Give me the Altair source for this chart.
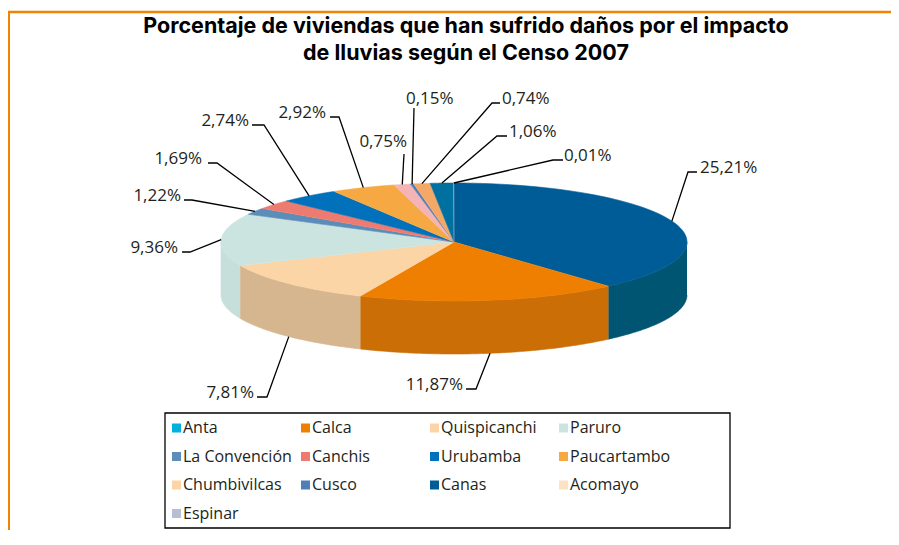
import altair as alt
import pandas as pd

# ---------------- data ----------------
NAMES = ["Anta", "Calca", "Quispicanchi", "Paruro", "La Convención", "Canchis",
         "Urubamba", "Paucartambo", "Chumbivilcas", "Cusco", "Canas", "Acomayo", "Espinar"]
VALUES = [25.21, 11.87, 7.81, 9.36, 1.22, 1.69, 2.74, 2.92, 0.75, 0.15, 0.74, 1.06, 0.01]

TOP_COLORS = ["#005C97", "#EF7F00", "#FBD5A5", "#CBE4E0", "#5B8DB8", "#EE7B70", "#0071BA",
              "#F6A843", "#F4B3B5", "#4F7EB9", "#F4A867", "#0070A0", "#B8BED4"]
SIDE_COLORS = ["#005573", "#CB6E06", "#D6B68F", "#C6DFDB", "#4E7AA0", "#CF6A60", "#00619F",
               "#D69237", "#D49B9D", "#446DA0", "#D49259", "#006089", "#9FA5B8"]
LEGEND_COLORS = ["#00B0DF", "#EF7F00", "#FBD5A5", "#CBE4E0", "#5B8DB8", "#EE7B70", "#0071BA",
                 "#F6A843", "#FBD5A5", "#4F7EB9", "#005C97", "#FDE2C6", "#B8BED4"]

TITLE_LINES = ["Porcentaje de viviendas que han sufrido daños por el impacto",
               "de lluvias según el Censo 2007"]

# ---------------- layout (annotation placement, px relative to pie centre) ----------------
ELBOW_DX = [234, 22, -187, -264, -262, -237, -190, -115, -50, -40, 38, 43, 99]
ELBOW_DY = [-70, 147, 155, 10, -42, -79, -117, -125, -88, -134, -139, -106, -82]
HLEN = [9, -10, -10, -8, -8, -9, -12, -9, 0, 0, 8, 10, 10]
TEXT_DX = [246, 9, -200, -276, -273, -252, -205, -128, -47, -48, 48, 55, 110]
TEXT_DY = [-69, 148, 156, 11, -41, -78, -116, -124, -95, -138, -138, -105, -81]
TEXT_ALIGN = ["left", "right", "right", "right", "right", "right", "right", "right",
              "right", "left", "left", "left", "left"]

W, H = 883, 522
CX, CY, A, B, D = 446, 234, 233, 59, 53
SEG = 60
FONT = "Open Sans"
INK = "#231F20"

df = pd.DataFrame({
    "name": NAMES, "value": VALUES, "idx": list(range(len(NAMES))),
    "top_color": TOP_COLORS, "side_color": SIDE_COLORS,
    "ex": ELBOW_DX, "ey": ELBOW_DY, "hl": HLEN,
    "tdx": TEXT_DX, "tdy": TEXT_DY, "talign": TEXT_ALIGN,
})

xs = alt.Scale(domain=[0, W], range=[0, W], nice=False, zero=False)
ys = alt.Scale(domain=[0, H], range=[0, H], nice=False, zero=False)


def X(f):
    return alt.X(f, type="quantitative", scale=xs, axis=None)


def Y(f):
    return alt.Y(f, type="quantitative", scale=ys, axis=None)


pie_base = (
    alt.Chart(df)
    .transform_window(cum="sum(value)", sort=[alt.SortField("idx", order="ascending")],
                      frame=[None, 0])
    .transform_joinaggregate(total="sum(value)")
    .transform_calculate(
        a0="2*PI*(datum.cum - datum.value)/datum.total",
        a1="2*PI*datum.cum/datum.total",
    )
)

# side walls (front half only)
sides = (
    pie_base
    .transform_calculate(s0="max(datum.a0, PI/2)", s1="min(datum.a1, 3*PI/2)")
    .transform_filter("datum.s1 > datum.s0")
    .transform_calculate(k=f"sequence(0, {2 * SEG + 2})")
    .transform_flatten(["k"])
    .transform_calculate(
        t=f"datum.k <= {SEG} ? datum.s0 + (datum.s1 - datum.s0)*datum.k/{SEG}"
          f" : datum.s1 - (datum.s1 - datum.s0)*(datum.k - {SEG + 1})/{SEG}",
        px=f"{CX} + {A}*sin(datum.t)",
        py=f"{CY} - {B}*cos(datum.t) + (datum.k > {SEG} ? {D} : 0)",
    )
    .mark_line(strokeWidth=0.6, strokeJoin="round")
    .encode(
        x=X("px"), y=Y("py"),
        fill=alt.Fill("side_color:N", scale=None),
        stroke=alt.Stroke("side_color:N", scale=None),
        detail="name:N", order="k:Q",
    )
)

# top surface wedges
tops = (
    pie_base
    .transform_calculate(k=f"sequence(-1, {SEG + 1})")
    .transform_flatten(["k"])
    .transform_calculate(
        t=f"datum.a0 + (datum.a1 - datum.a0)*max(datum.k, 0)/{SEG}",
        px=f"datum.k < 0 ? {CX} : {CX} + {A}*sin(datum.t)",
        py=f"datum.k < 0 ? {CY} : {CY} - {B}*cos(datum.t)",
    )
    .mark_line(strokeWidth=0.6, strokeJoin="round")
    .encode(
        x=X("px"), y=Y("py"),
        fill=alt.Fill("top_color:N", scale=None),
        stroke=alt.Stroke("top_color:N", scale=None),
        detail="name:N", order="k:Q",
    )
)

# leader lines
leaders = (
    pie_base
    .transform_calculate(m="(datum.a0 + datum.a1)/2")
    .transform_calculate(k="sequence(0, 3)")
    .transform_flatten(["k"])
    .transform_calculate(
        px=f"datum.k == 0 ? {CX} + {A}*sin(datum.m) : {CX} + datum.ex + (datum.k == 2 ? datum.hl : 0)",
        py=f"datum.k == 0 ? {CY} - {B}*cos(datum.m) + (cos(datum.m) < -0.3 ? {D} : 0) : {CY} + datum.ey",
    )
    .mark_line(color="#000000", strokeWidth=1.3)
    .encode(x=X("px"), y=Y("py"), detail="name:N", order="k:Q")
)

label_base = (
    alt.Chart(df)
    .transform_calculate(
        lbl="replace(format(datum.value, '.2f'), '.', ',') + '%'",
        px=f"{CX} + datum.tdx",
        py=f"{CY} + datum.tdy",
    )
)
labels_left = label_base.transform_filter("datum.talign == 'left'").mark_text(
    align="left", baseline="alphabetic", font=FONT, fontSize=17, color=INK
).encode(x=X("px"), y=Y("py"), text="lbl:N")
labels_right = label_base.transform_filter("datum.talign == 'right'").mark_text(
    align="right", baseline="alphabetic", font=FONT, fontSize=17, color=INK
).encode(x=X("px"), y=Y("py"), text="lbl:N")

# title
title_df = pd.DataFrame({"line": TITLE_LINES, "i": list(range(len(TITLE_LINES)))})
title = (
    alt.Chart(title_df)
    .transform_calculate(py="25 + 26.5*datum.i")
    .mark_text(align="center", baseline="alphabetic", font="Inter", fontSize=21.5,
               fontWeight="bold", color="#000000")
    .encode(x=alt.value(458), y=Y("py"), text="line:N")
)

# legend
leg_df = pd.DataFrame({"name": NAMES, "idx": list(range(len(NAMES))), "lcolor": LEGEND_COLORS})
leg_base = alt.Chart(leg_df).transform_calculate(
    col="datum.idx % 4", row="floor(datum.idx / 4)"
).transform_calculate(
    sx="168.5 + 129*datum.col", ty="420 + 28.5*datum.row", tx="175 + 129*datum.col"
)
leg_sw = leg_base.mark_square(size=81, opacity=1).encode(
    x=X("sx"), y=Y("ty"), color=alt.Color("lcolor:N", scale=None)
)
leg_tx = leg_base.mark_text(align="left", baseline="middle", font=FONT, fontSize=16,
                            color=INK).encode(x=X("tx"), y=Y("ty"), text="name:N")

dummy = pd.DataFrame({"a": [0]})
leg_box = alt.Chart(dummy).mark_rect(fill="white", stroke="#000000", strokeWidth=1.3).encode(
    x=alt.value(157), x2=alt.value(722), y=alt.value(405), y2=alt.value(520)
)
frame_top = alt.Chart(dummy).mark_rule(color="#F08300", strokeWidth=2.5).encode(
    x=alt.value(0), x2=alt.value(W), y=alt.value(4)
)
frame_left = alt.Chart(dummy).mark_rule(color="#F08300", strokeWidth=2.5).encode(
    x=alt.value(0.75), y=alt.value(3), y2=alt.value(H)
)

chart = alt.layer(
    frame_top, frame_left, title, sides, tops, leaders, labels_left, labels_right,
    leg_box, leg_sw, leg_tx,
).properties(
    width=W, height=H, padding=0, background="white",
    autosize=alt.AutoSizeParams(type="none"),
).configure_view(stroke=None)

chart.save("out.html", embed_options={"renderer": "svg", "actions": False})
